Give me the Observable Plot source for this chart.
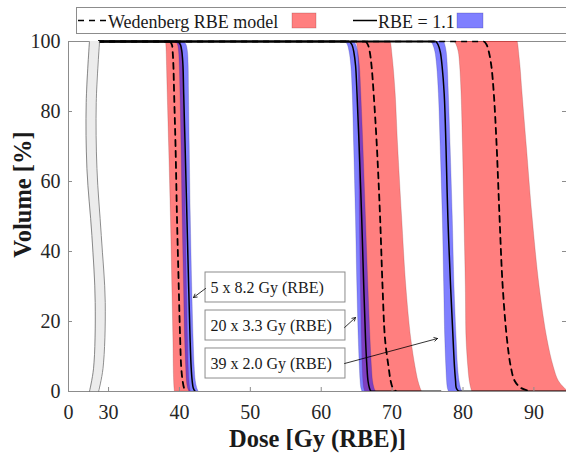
<!DOCTYPE html>
<html><head><meta charset="utf-8">
<script src="https://cdn.jsdelivr.net/npm/d3@7"></script>
<script src="https://cdn.jsdelivr.net/npm/@observablehq/plot@0.6"></script>
<style>
html,body{margin:0;padding:0;background:#fff;}
#wrap{position:relative;width:566px;height:455px;overflow:hidden;}
#legend{position:absolute;left:0;top:0;pointer-events:none;}
</style></head><body>
<div id="wrap"></div>
<script>
// ---- data ----
const volumeLevels = [100, 99, 97, 93, 85, 70, 50, 30, 15, 7, 3, 1, 0];
const groupNames = ["5 x 8.2 Gy (RBE)", "20 x 3.3 Gy (RBE)", "39 x 2.0 Gy (RBE)"];

// Wedenberg RBE model: nominal (dashed) and band limits
const wedG1Dose = [38.7, 38.95, 39.05, 39.15, 39.25, 39.45, 39.65, 39.9, 40.1, 40.25, 40.45, 40.65, 40.9];
const wedG1Low  = [38.1, 38.15, 38.2, 38.25, 38.35, 38.55, 38.8, 39.0, 39.15, 39.2, 39.25, 39.3, 39.35];
const wedG1High = [40.0, 40.3, 40.45, 40.55, 40.65, 40.75, 40.9, 41.05, 41.2, 41.3, 41.4, 41.5, 41.6];
const wedG2Dose = [66.3, 66.6, 66.85, 67.1, 67.4, 67.85, 68.3, 68.65, 69.0, 69.5, 69.8, 70.1, 70.6];
const wedG2Low  = [64.9, 65.1, 65.2, 65.3, 65.33, 65.38, 65.45, 65.6, 65.75, 65.85, 65.95, 66.05, 66.2];
const wedG2High = [69.8, 69.9, 70.0, 70.2, 70.5, 70.85, 71.4, 72.0, 72.7, 73.3, 73.7, 74.0, 74.2];
const wedG3Dose = [83.0, 83.35, 83.65, 84.0, 84.35, 84.75, 85.15, 85.6, 86.2, 86.75, 87.3, 88.2, 89.7];
const wedG3Low  = [78.8, 79.1, 79.4, 79.6, 79.8, 80.0, 80.2, 80.4, 80.5, 80.75, 80.95, 81.15, 81.3];
const wedG3High = [87.7, 87.8, 87.9, 88.1, 88.4, 89.0, 89.8, 90.8, 91.9, 92.8, 93.5, 94.3, 94.8];

// RBE = 1.1: nominal (solid) and band limits
const rbeG1Dose = [39.8, 40.15, 40.35, 40.5, 40.6, 40.8, 41.05, 41.3, 41.5, 41.65, 41.8, 41.95, 42.2];
const rbeG1Low  = [39.5, 39.8, 39.95, 40.05, 40.15, 40.3, 40.45, 40.65, 40.8, 40.95, 41.05, 41.2, 41.4];
const rbeG1High = [40.6, 41.0, 41.2, 41.3, 41.35, 41.45, 41.6, 41.8, 42.0, 42.15, 42.3, 42.5, 42.7];
const rbeG2Dose = [64.0, 64.35, 64.6, 64.85, 65.05, 65.35, 65.7, 66.0, 66.25, 66.45, 66.6, 66.8, 67.0];
const rbeG2Low  = [63.4, 63.75, 64.0, 64.25, 64.45, 64.65, 64.9, 65.1, 65.3, 65.45, 65.55, 65.65, 65.8];
const rbeG2High = [64.6, 64.95, 65.2, 65.45, 65.65, 65.95, 66.3, 66.65, 66.95, 67.15, 67.3, 67.5, 67.7];
const rbeG3Dose = [76.2, 76.5, 76.8, 77.05, 77.35, 77.6, 77.86, 78.25, 78.6, 78.8, 78.95, 79.05, 79.4];
const rbeG3Low  = [75.5, 75.8, 76.1, 76.35, 76.6, 76.85, 77.15, 77.35, 77.5, 77.65, 77.75, 77.85, 78.0];
const rbeG3High = [77.3, 77.5, 77.7, 77.85, 78.0, 78.25, 78.55, 78.8, 79.1, 79.3, 79.5, 79.7, 79.9];

// where the curves leave the axis break at 100 % and where the solid lines end at 0 %
const curveStartDose = 28.6;
const solidTailDose = [42.3, 77.0, 94.8];

// axis break band (volume, left dose, right dose)
const breakVol   = [100, 82.6, 63.7, 44.6, 25.4, 6.5, 0];
const breakLeft  = [27.31, 26.85, 26.95, 27.65, 28.12, 27.88, 27.31];
const breakRight = [28.73, 28.26, 28.36, 28.97, 29.53, 29.21, 28.59];

// ticks
const xTickValues = [24.35, 30, 40, 50, 60, 70, 80, 90];
const xTickLabels = ["0", "30", "40", "50", "60", "70", "80", "90"];
const yTickValues = [0, 20, 40, 60, 80, 100];

// legend
const legendLabels = ["Wedenberg RBE model", "RBE = 1.1"];

// annotations (box extents, text anchor, arrow in data units)
const noteBoxX = [43.68, 63.42];
const noteBoxY1 = [25.43, 14.57, 3.71];
const noteBoxY2 = [34.0, 23.14, 12.29];
const noteTextX = 44.38;
const noteTextY = [29.71, 18.86, 8.0];
const noteArrowFrom = [[43.68, 29.43], [63.3, 18.29], [63.3, 8.0]];
const noteArrowTo   = [[41.98, 26.86], [64.84, 21.14], [76.4, 15.14]];

// ---- build tables ----
const wed = [[wedG1Dose, wedG1Low, wedG1High], [wedG2Dose, wedG2Low, wedG2High], [wedG3Dose, wedG3Low, wedG3High]];
const rbe = [[rbeG1Dose, rbeG1Low, rbeG1High], [rbeG2Dose, rbeG2Low, rbeG2High], [rbeG3Dose, rbeG3Low, rbeG3High]];
function bandRows(src) {
  return src.flatMap((g, gi) => volumeLevels.map((v, i) => ({group: groupNames[gi], vol: v, low: g[1][i], high: g[2][i]})));
}
function lineRows(src) {
  return src.flatMap((g, gi) => volumeLevels.map((v, i) => ({group: groupNames[gi], vol: v, dose: g[0][i]})));
}
const wedBands = bandRows(wed), rbeBands = bandRows(rbe);
const wedLines = lineRows(wed), rbeLines = lineRows(rbe);
const wedTop = wed.map(g => ({x1: curveStartDose, x2: g[0][0], y: 100}));
const rbeTop = rbe.map(g => ({x1: curveStartDose, x2: g[0][0], y: 100}));
const rbeBottom = rbe.map((g, i) => ({x1: g[0][g[0].length - 1], x2: solidTailDose[i], y: 0}));
const breakRows = breakVol.map((v, i) => ({vol: v, left: breakLeft[i], right: breakRight[i]}));
const notes = groupNames.map((n, i) => ({
  label: n, x1: noteBoxX[0], x2: noteBoxX[1], y1: noteBoxY1[i], y2: noteBoxY2[i],
  tx: noteTextX, ty: noteTextY[i],
  ax1: noteArrowFrom[i][0], ay1: noteArrowFrom[i][1], ax2: noteArrowTo[i][0], ay2: noteArrowTo[i][1]
}));
const xLabelMap = new Map(xTickValues.map((v, i) => [v, xTickLabels[i]]));

const frameGrey = "#8c8c8c";
const curve = "catmull-rom";

const chart = Plot.plot({
  width: 566, height: 455,
  marginLeft: 68, marginRight: 0, marginTop: 41, marginBottom: 64,
  style: {fontFamily: "'Liberation Serif', 'Times New Roman', serif", fontSize: "20px", color: "#262626", background: "white", overflow: "visible"},
  x: {domain: [24.35, 94.6]},
  y: {domain: [0, 100]},
  marks: [
    Plot.frame({stroke: frameGrey}),
    Plot.areaX(wedBands, {y: "vol", x1: "low", x2: "high", z: "group", fill: "#ff0000", fillOpacity: 0.5, stroke: "#7a2020", strokeOpacity: 0.35, strokeWidth: 0.6, curve, clip: true}),
    Plot.areaX(rbeBands, {y: "vol", x1: "low", x2: "high", z: "group", fill: "#0000ff", fillOpacity: 0.5, stroke: "#20207a", strokeOpacity: 0.35, strokeWidth: 0.6, curve, clip: true}),
    Plot.ruleY(wedTop, {y: "y", x1: "x1", x2: "x2", stroke: "black", strokeWidth: 1.6, strokeDasharray: "6,5"}),
    Plot.line(wedLines, {x: "dose", y: "vol", z: "group", stroke: "black", strokeWidth: 1.8, strokeDasharray: "6,5", curve, clip: true}),
    Plot.ruleY(rbeTop, {y: "y", x1: "x1", x2: "x2", stroke: "black", strokeWidth: 2}),
    Plot.ruleY(rbeBottom, {y: "y", x1: "x1", x2: "x2", stroke: "black", strokeWidth: 1.8, clip: true}),
    Plot.line(rbeLines, {x: "dose", y: "vol", z: "group", stroke: "black", strokeWidth: 1.5, curve, clip: true}),
    // axis break
    Plot.areaX(breakRows, {y: "vol", x1: "left", x2: "right", fill: "#ececec", curve}),
    Plot.line(breakRows, {x: "left", y: "vol", stroke: "#6f6f6f", strokeWidth: 0.8, curve}),
    Plot.line(breakRows, {x: "right", y: "vol", stroke: "#6f6f6f", strokeWidth: 0.8, curve}),
    // inward ticks
    Plot.ruleX(xTickValues.slice(1), {x: d => d, insetTop: 346, stroke: frameGrey}),
    Plot.ruleY(yTickValues.slice(1, -1), {y: d => d, insetRight: 494, stroke: frameGrey}),
    Plot.ruleY(yTickValues.slice(1, -1), {y: d => d, insetLeft: 494, stroke: frameGrey}),
    Plot.axisX({ticks: xTickValues, tickFormat: d => xLabelMap.get(d), tickSize: 0, tickPadding: 13, label: null}),
    Plot.axisY({ticks: yTickValues, tickSize: 0, tickPadding: 8, label: null}),
    Plot.text(["Dose [Gy (RBE)]"], {text: d => d, frameAnchor: "bottom", lineAnchor: "middle", textAnchor: "middle", dy: 48, fontWeight: "bold", fontSize: 24.5, fill: "#1a1a1a"}),
    Plot.text(["Volume [%]"], {text: d => d, frameAnchor: "left", textAnchor: "middle", lineAnchor: "middle", rotate: -90, dx: -45, dy: -22, fontWeight: "bold", fontSize: 24.5, fill: "#1a1a1a"}),
    // annotations
    Plot.rect(notes, {x1: "x1", x2: "x2", y1: "y1", y2: "y2", fill: "white", stroke: frameGrey}),
    Plot.text(notes, {x: "tx", y: "ty", text: "label", textAnchor: "start", fontSize: 16, fill: "#1a1a1a"}),
    Plot.arrow(notes, {x1: "ax1", y1: "ay1", x2: "ax2", y2: "ay2", stroke: "black", strokeWidth: 0.8, headLength: 7})
  ]
});
const wrap = document.getElementById("wrap");
wrap.appendChild(chart);

// ---- legend overlay ----
const lg = d3.select(wrap).append("svg").attr("id", "legend").attr("width", 566).attr("height", 40)
  .style("font-family", "'Liberation Serif', 'Times New Roman', serif");
lg.append("rect").attr("x", 76.5).attr("y", 7.5).attr("width", 500).attr("height", 26).attr("fill", "white").attr("stroke", frameGrey);
// entry 1
lg.append("line").attr("x1", 78).attr("x2", 106).attr("y1", 20.5).attr("y2", 20.5).attr("stroke", "black").attr("stroke-width", 1.6).attr("stroke-dasharray", "6,5");
lg.append("text").attr("x", 108).attr("y", 28).attr("font-size", 18).attr("fill", "#1a1a1a").text(legendLabels[0]);
lg.append("rect").attr("x", 292).attr("y", 13).attr("width", 24).attr("height", 15).attr("fill", "#ff0000").attr("fill-opacity", 0.5).attr("stroke", "#7a2020").attr("stroke-opacity", 0.4).attr("stroke-width", 0.6);
// entry 2
lg.append("line").attr("x1", 353).attr("x2", 377).attr("y1", 20.5).attr("y2", 20.5).attr("stroke", "black").attr("stroke-width", 1.5);
lg.append("text").attr("x", 378).attr("y", 28).attr("font-size", 18).attr("fill", "#1a1a1a").text(legendLabels[1]);
lg.append("rect").attr("x", 457).attr("y", 13).attr("width", 26).attr("height", 15).attr("fill", "#0000ff").attr("fill-opacity", 0.5).attr("stroke", "#20207a").attr("stroke-opacity", 0.4).attr("stroke-width", 0.6);
</script>
</body></html>
